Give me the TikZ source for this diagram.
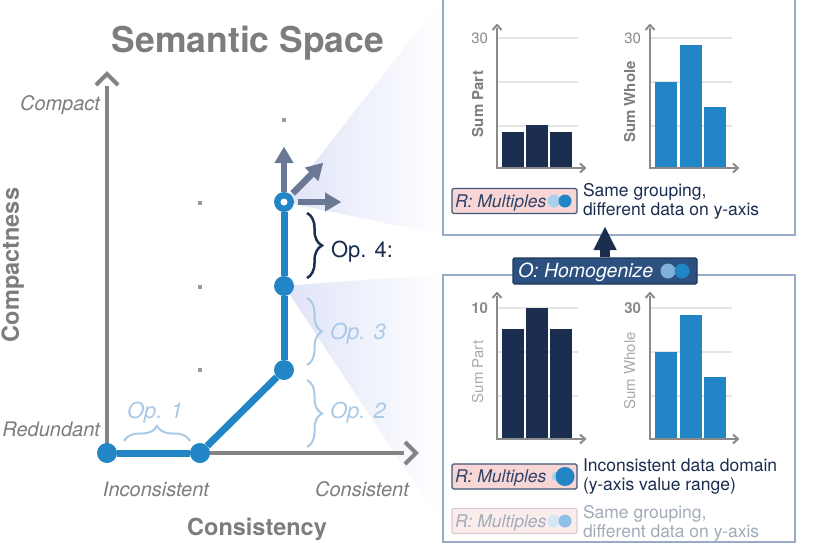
\documentclass[tikz,border=0pt]{standalone}
\usepackage{fontspec}
\setmainfont{TeX Gyre Heros}
\usetikzlibrary{decorations.pathreplacing,arrows.meta}
\definecolor{axgray}{HTML}{838383}
\definecolor{txtgray}{HTML}{7D7D7D}
\definecolor{pathblue}{HTML}{2185C6}
\definecolor{navy}{HTML}{1B2E50}
\definecolor{oplight}{HTML}{A9C9E7}
\definecolor{arrgray}{HTML}{6A7893}
\definecolor{boxline}{HTML}{97AAC6}
\definecolor{tagfill}{HTML}{F8D6D6}
\definecolor{tagline}{HTML}{3F5779}
\definecolor{tagtext}{HTML}{2F4569}
\definecolor{ofill}{HTML}{2C5080}
\definecolor{oline}{HTML}{1E3759}
\definecolor{conecol}{HTML}{DFE3F7}
\definecolor{gridcol}{HTML}{E4E4E4}
\definecolor{chaxis}{HTML}{8A8A8A}
\definecolor{lblue}{HTML}{A8CFEC}
\definecolor{olblue}{HTML}{7FB1DA}
\definecolor{fadetext}{HTML}{A2ABB8}
\definecolor{fadefill}{HTML}{FCEDED}
\definecolor{fadeline}{HTML}{DDCCD1}
\definecolor{fadel1}{HTML}{D5E7F5}
\definecolor{fadel2}{HTML}{8FC0E5}
\definecolor{dotgray}{HTML}{9A9A9A}
\definecolor{sumlight}{HTML}{ABABAB}
\tikzset{
 ptnode/.style={circle, fill=pathblue, minimum size=20pt, inner sep=0pt},
 pathseg/.style={draw=pathblue, line width=7pt},
 axisline/.style={draw=axgray, line width=4pt},
 chevron/.style={draw=axgray, line width=4pt, line join=miter},
 gdot/.style={rectangle, fill=dotgray, minimum size=4pt, inner sep=0pt},
 dirarrow/.style={draw=arrgray, line width=6.5pt, -{Triangle[length=16pt,width=19pt,line width=0.01pt]}},
 opbrace/.style={decorate, decoration={brace, amplitude=15pt}, line width=2pt},
 txt/.style={inner sep=0pt, outer sep=0pt},
 ttl/.style={txt, text=txtgray, font=\fontsize{35.5}{40}\selectfont\bfseries},
 axname/.style={txt, text=txtgray, font=\fontsize{23.5}{28}\selectfont\bfseries},
 axend/.style={txt, text=txtgray, font=\fontsize{20}{24}\selectfont\itshape},
 oplab/.style={txt, text=oplight, font=\fontsize{22}{26}\selectfont\itshape},
 op4lab/.style={txt, text=navy, font=\fontsize{22}{26}\selectfont},
 frm/.style={draw=boxline, line width=1.5pt, fill=white},
 gridln/.style={draw=gridcol, line width=1.5pt},
 chax/.style={draw=chaxis, line width=2pt, line join=miter},
 tk/.style={txt, anchor=east, text=chaxis, font=\fontsize{15}{18}\selectfont},
 tkb/.style={txt, anchor=east, text=chaxis, font=\fontsize{15}{18}\selectfont\bfseries},
 ylab/.style={txt, rotate=90, anchor=base, text=txtgray, font=\fontsize{15}{18}\selectfont\bfseries},
 ylablt/.style={txt, rotate=90, anchor=base, text=sumlight, font=\fontsize{15}{18}\selectfont},
 tagbox/.style={draw=tagline, fill=tagfill, line width=1.2pt, rounded corners=1.5pt, minimum width=125pt, minimum height=25pt, inner sep=0pt},
 fadebox/.style={tagbox, draw=fadeline, fill=fadefill},
 tagtxt/.style={txt, anchor=base west, text=tagtext, font=\fontsize{17.5}{20}\selectfont\itshape},
 fadetxt/.style={tagtxt, text=fadetext},
 dsc/.style={txt, align=left, anchor=west, text=navy, font=\fontsize{17.5}{19}\selectfont},
 fadedsc/.style={dsc, text=fadetext},
 dotc/.style={circle, inner sep=0pt, minimum size=#1},
 obox/.style={draw=oline, fill=ofill, line width=1.2pt, rounded corners=1.5pt, minimum width=184pt, minimum height=26pt, inner sep=0pt},
 otxt/.style={txt, anchor=base west, text=white, font=\fontsize{19.5}{22}\selectfont\itshape},
 uparr/.style={draw=navy, line width=10pt, -{Triangle[length=23pt,width=23pt,line width=0.01pt]}},
 navybar/.style={fill=navy},
 bluebar/.style={fill=pathblue}
}
\begin{document}
\begin{tikzpicture}[x=1pt,y=-1pt]
\useasboundingbox (0,0) rectangle (814,544);
% cones
\coordinate (p4c) at (284,202);
\coordinate (p3c) at (284,286);
\coordinate (c1a) at (443,-2);
\coordinate (c1b) at (443,235);
\coordinate (c2a) at (443,274);
\coordinate (c2b) at (443,526);
\shade[left color=conecol, right color=white] (p4c) -- (c1a) -- (c1b) -- cycle;
\shade[left color=conecol, right color=white] (p3c) -- (c2a) -- (c2b) -- cycle;
% frames
\draw[frm] (443,-5) rectangle (795,235);
\draw[frm] (443,275) rectangle (795,542);
% title and axis labels
\node[ttl, anchor=base] (title) at (248,52) {Semantic Space};
\node[axend, anchor=base east] (compact) at (100,110) {Compact};
\node[axend, anchor=base east] (redund) at (100,436) {Redundant};
\node[axend, anchor=base] (incons) at (156,496) {Inconsistent};
\node[axend, anchor=base] (cons) at (362,496) {Consistent};
\node[axname, anchor=base] (consy) at (257,535) {Consistency};
\node[axname, rotate=90, anchor=base] (compn) at (19,265) {Compactness};
% axes
\coordinate (orig) at (107,453);
\coordinate (ytip) at (107,86);
\coordinate (xtip) at (404,453);
\draw[axisline] (orig) -- (ytip);
\draw[chevron] (96,85) -- (107,74) -- (118,85);
\draw[axisline] (orig) -- (xtip);
\draw[chevron] (405,442) -- (416,453) -- (405,464);
% grey dots
\node[gdot] (d1) at (200,203) {};
\node[gdot] (d2) at (200,287) {};
\node[gdot] (d3) at (200,370) {};
\node[gdot] (d4) at (284,120) {};
% path
\node[ptnode] (p0) at (107,453) {};
\node[ptnode] (p1) at (200,453) {};
\node[ptnode] (p2) at (284,370) {};
\node[ptnode] (p3) at (284,286) {};
\node[ptnode] (p4) at (284,202) {};
\node[circle, fill=white, minimum size=7pt, inner sep=0pt] (p4in) at (p4) {};
\draw[pathseg] (p0) -- (p1);
\draw[pathseg] (p1) -- (p2);
\draw[pathseg] (p2) -- (p3);
\draw[pathseg] (p3) -- (p4);
% direction arrows
\coordinate (aup) at (284,147);
\coordinate (adg) at (323,163);
\coordinate (art) at (341,202);
\draw[dirarrow] (p4) -- (aup);
\draw[dirarrow, shorten <=2pt] (p4) -- (adg);
\draw[dirarrow, shorten <=4pt] (p4) -- (art);
% braces
\coordinate (b1a) at (124,441); \coordinate (b1b) at (190,441);
\coordinate (b2a) at (307,380); \coordinate (b2b) at (307,447);
\coordinate (b3a) at (307,298); \coordinate (b3b) at (307,365);
\coordinate (b4a) at (307,213); \coordinate (b4b) at (307,278);
\draw[opbrace, draw=oplight] (b1a) -- (b1b);
\draw[opbrace, draw=oplight] (b2a) -- (b2b);
\draw[opbrace, draw=oplight] (b3a) -- (b3b);
\draw[opbrace, draw=navy, line width=2.5pt] (b4a) -- (b4b);
\node[oplab, anchor=base] (l1) at (155,418) {Op. 1};
\node[oplab, anchor=base west] (l2) at (330,418) {Op. 2};
\node[oplab, anchor=base west] (l3) at (330,339) {Op. 3};
\node[op4lab, anchor=base west] (l4) at (331,257) {Op. 4:};
% ---------- top box charts ----------
\draw[gridln] (497,38) -- (578,38);
\draw[gridln] (497,82) -- (578,82);
\draw[gridln] (497,126) -- (578,126);
\fill[navybar] (502,132) rectangle (524,168);
\fill[navybar] (526,125) rectangle (548,168);
\fill[navybar] (550,132) rectangle (572,168);
\draw[chax] (497,28) -- (497,168) -- (583,168);
\draw[chax] (492.5,30) -- (497,25) -- (501.5,30);
\draw[chax] (580,163.5) -- (585,168) -- (580,172.5);
\node[tk] (t1) at (488,38) {30};
\node[ylab] (ty1) at (483,104) {Sum Part};
\draw[gridln] (650,38) -- (732,38);
\draw[gridln] (650,82) -- (732,82);
\draw[gridln] (650,126) -- (732,126);
\fill[bluebar] (655,82) rectangle (677,168);
\fill[bluebar] (680,45) rectangle (702,168);
\fill[bluebar] (704,107) rectangle (726,168);
\draw[chax] (650,28) -- (650,168) -- (736,168);
\draw[chax] (645.5,30) -- (650,25) -- (654.5,30);
\draw[chax] (733,163.5) -- (738,168) -- (733,172.5);
\node[tk] (t2) at (641,38) {30};
\node[ylab] (ty2) at (635,102) {Sum Whole};
% top tag
\node[tagbox] (tag1) at (514.5,201) {};
\node[tagtxt] (tag1t) at (455,207) {R: Multiples};
\node[dotc=13pt, fill=lblue] (tag1c1) at (554,201) {};
\node[dotc=13pt, fill=pathblue] (tag1c2) at (565,201) {};
\node[dsc] (desc1) at (583,201.5) {Same grouping,\\different data on y-axis};
% ---------- O box ----------
\node[obox] (obx) at (605,271) {};
\coordinate (otip) at (605,227);
\draw[uparr] (obx.north) -- (otip);
\node[otxt] (obt) at (518,277) {O: Homogenize};
\node[dotc=15pt, fill=olblue] (oc1) at (668,271) {};
\node[dotc=15pt, fill=pathblue] (oc2) at (682,271) {};
% ---------- bottom box charts ----------
\draw[gridln] (497,308) -- (578,308);
\draw[gridln] (497,352) -- (578,352);
\draw[gridln] (497,396) -- (578,396);
\fill[navybar] (502,329) rectangle (524,439);
\fill[navybar] (526,308) rectangle (548,439);
\fill[navybar] (550,329) rectangle (572,439);
\draw[chax] (497,296) -- (497,439) -- (583,439);
\draw[chax] (492.5,298) -- (497,293) -- (501.5,298);
\draw[chax] (580,434.5) -- (585,439) -- (580,443.5);
\node[tkb] (t3) at (488,308) {10};
\node[ylablt] (ty3) at (483,372) {Sum Part};
\draw[gridln] (650,308) -- (732,308);
\draw[gridln] (650,352) -- (732,352);
\draw[gridln] (650,396) -- (732,396);
\fill[bluebar] (655,352) rectangle (677,439);
\fill[bluebar] (680,315) rectangle (702,439);
\fill[bluebar] (704,377) rectangle (726,439);
\draw[chax] (650,296) -- (650,439) -- (736,439);
\draw[chax] (645.5,298) -- (650,293) -- (654.5,298);
\draw[chax] (733,434.5) -- (738,439) -- (733,443.5);
\node[tkb] (t4) at (641,308) {30};
\node[ylablt] (ty4) at (635,371) {Sum Whole};
% bottom tags
\node[tagbox] (tag2) at (514.5,476.5) {};
\node[tagtxt] (tag2t) at (455,482.5) {R: Multiples};
\node[dotc=9pt, fill=lblue] (tag2c1) at (556,476.5) {};
\node[dotc=19pt, fill=pathblue] (tag2c2) at (565,476.5) {};
\node[dsc] (desc2) at (583,477) {Inconsistent data domain\\(y-axis value range)};
\node[fadebox] (tag3) at (514.5,521) {};
\node[fadetxt] (tag3t) at (455,527) {R: Multiples};
\node[dotc=13pt, fill=fadel1] (tag3c1) at (554,521) {};
\node[dotc=13pt, fill=fadel2] (tag3c2) at (565,521) {};
\node[fadedsc] (desc3) at (583,523) {Same grouping,\\different data on y-axis};
\end{tikzpicture}
\end{document}
